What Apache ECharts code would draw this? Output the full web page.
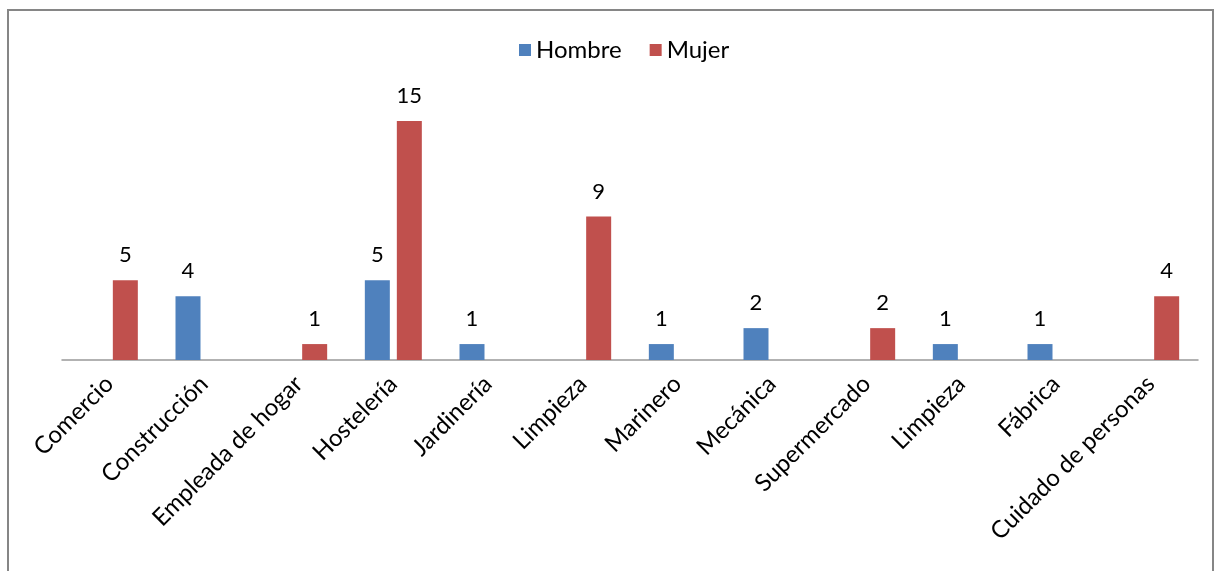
<!DOCTYPE html>
<html><head><meta charset="utf-8">
<script src="https://cdn.jsdelivr.net/npm/echarts@6/dist/echarts.min.js"></script>
<style>html,body{margin:0;padding:0;background:#fff}#c{width:1218px;height:571px}</style>
</head><body><div id="c"></div>
<script>
const categories = ['Comercio','Construcción','Empleada de hogar','Hostelería','Jardinería','Limpieza','Marinero','Mecánica','Supermercado','Limpieza','Fábrica','Cuidado de personas'];
const hombre = [null,4,null,5,1,null,1,2,null,1,1,null];
const mujer = [5,null,1,15,null,9,null,null,2,null,null,4];
const seriesNames = ['Hombre','Mujer'];

const chart = echarts.init(document.getElementById('c'));
const font = 'Lato, "Open Sans", sans-serif';
const lbl = {show:true, position:'top', distance:14, color:'#000', fontSize:22, fontFamily:font};
chart.setOption({
  animation:false,
  backgroundColor:'#fff',
  graphic:[{type:'rect', shape:{x:8,y:10,width:1205,height:600}, style:{fill:'none', stroke:'#868686', lineWidth:2}}],
  legend:{top:33, left:514, itemWidth:12, itemHeight:12, itemGap:28, itemStyle:{borderWidth:0}, icon:'rect',
    textStyle:{fontSize:24, fontFamily:font, color:'#000'}, data:seriesNames},
  grid:{left:62, right:20, top:121, bottom:211},
  xAxis:{type:'category', data:categories,
    axisLine:{lineStyle:{color:'#999', width:1.5}}, axisTick:{show:false},
    axisLabel:{interval:0, rotate:45, fontSize:24, fontFamily:font, color:'#000', margin:20}},
  yAxis:{type:'value', min:0, max:15, show:false, splitLine:{show:false}},
  series:[
    {name:seriesNames[0], type:'bar', data:hombre, barWidth:25, barGap:'28%', itemStyle:{color:'#4f81bd'}, label:lbl},
    {name:seriesNames[1], type:'bar', data:mujer, barWidth:25, barGap:'28%', itemStyle:{color:'#c0504d'}, label:lbl}
  ]
});
</script></body></html>
